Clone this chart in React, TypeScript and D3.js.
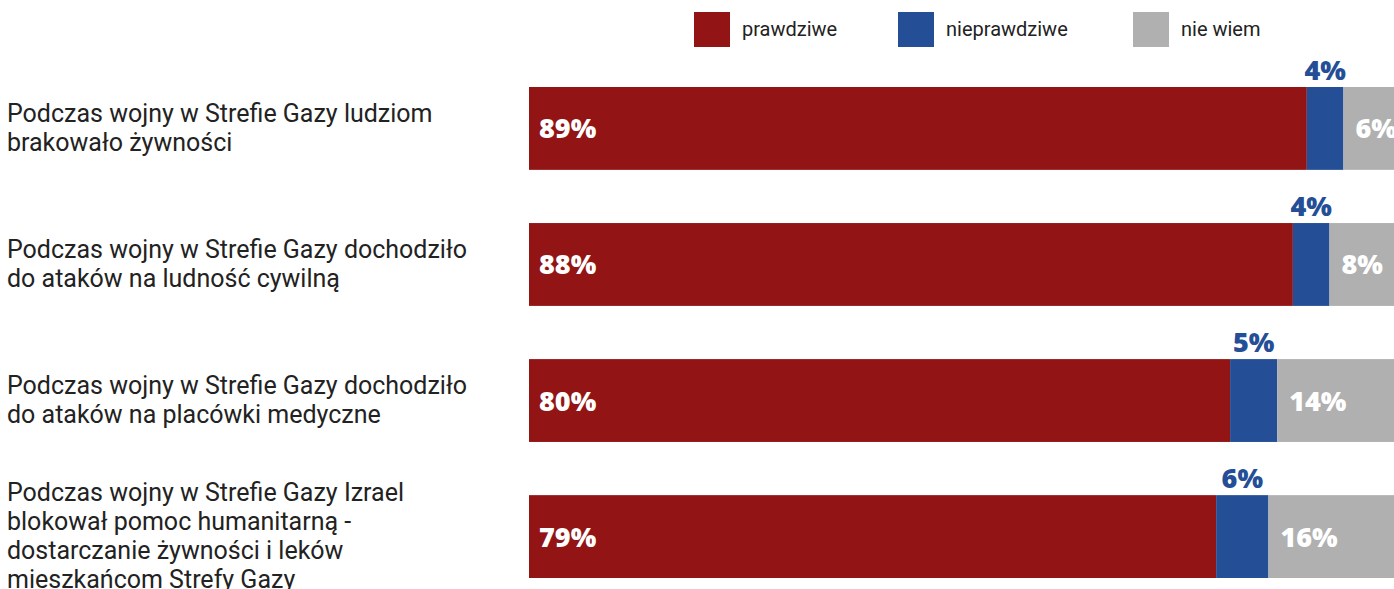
import React from "react";
import * as d3 from "d3";

const categories: string[][] = [
  ["Podczas wojny w Strefie Gazy ludziom", "brakowało żywności"],
  ["Podczas wojny w Strefie Gazy dochodziło", "do ataków na ludność cywilną"],
  ["Podczas wojny w Strefie Gazy dochodziło", "do ataków na placówki medyczne"],
  ["Podczas wojny w Strefie Gazy Izrael", "blokował pomoc humanitarną -", "dostarczanie żywności i leków", "mieszkańcom Strefy Gazy"],
];
const seriesNames = ["prawdziwe", "nieprawdziwe", "nie wiem"];
const prawdziwe = [89.2, 87.6, 80.4, 78.8];
const nieprawdziwe = [4.2, 4.2, 5.4, 6.0];
const nieWiem = [6.6, 8.2, 14.2, 15.6];
const labelPrawdziwe = [89, 88, 80, 79];
const labelNieprawdziwe = [4, 4, 5, 6];
const labelNieWiem = [6, 8, 14, 16];
const colors = ["#921414", "#244E96", "#B0B0B0"];

const W = 1394;
const H = 589;

export default function App() {
  const x = d3.scaleLinear().domain([0, 100]).range([529, 1401]);
  const ids = categories.map((_, i) => String(i));
  const y = d3.scaleBand().domain(ids).range([87, 578]).paddingInner(0.391).paddingOuter(0);
  const rows = categories.map((c, i) => ({ id: String(i), p: prawdziwe[i], n: nieprawdziwe[i], w: nieWiem[i] }));
  const stack = d3.stack<any>().keys(["p", "n", "w"])(rows);
  const bw = y.bandwidth();
  const labelFont = "Roboto, 'Noto Sans', sans-serif";
  const valueFont = "'Open Sans', sans-serif";
  const legendX = [694, 898, 1133];
  const lineH = 29;

  return (
    <svg width={W} height={H} style={{ position: "absolute", left: 0, top: 0 }}>
      <rect width={W} height={H} fill="#fff" />
      {seriesNames.map((s, i) => (
        <g key={s}>
          <rect x={legendX[i]} y={12} width={36} height={35} fill={colors[i]} />
          <text x={legendX[i] + 48} y={36} fontFamily={labelFont} fontSize={20} fill="#222">{s}</text>
        </g>
      ))}
      {stack.map((layer, k) => (
        <g key={k} fill={colors[k]}>
          {layer.map((d, i) => (
            <rect key={i} x={x(d[0])} y={y(String(i))!} width={x(d[1]) - x(d[0])} height={bw} />
          ))}
        </g>
      ))}
      {categories.map((lines, i) => {
        const cy = y(String(i))! + bw / 2;
        const top = cy - ((lines.length - 1) * lineH) / 2;
        return (
          <text key={i} fontFamily={labelFont} fontSize={25} fill="#222">
            {lines.map((l, j) => (
              <tspan key={j} x={7} y={top + j * lineH + 8}>{l}</tspan>
            ))}
          </text>
        );
      })}
      {rows.map((r, i) => {
        const yy = y(String(i))!;
        const cy = yy + bw / 2;
        const s0 = stack[0][i], s1 = stack[1][i], s2 = stack[2][i];
        return (
          <g key={i} fontFamily={valueFont} fontWeight={800} fontSize={27}>
            <text x={x(s0[0]) + 10} y={cy + 10} fill="#fff">{labelPrawdziwe[i]}%</text>
            <text x={(x(s1[0]) + x(s1[1])) / 2} y={yy - 7} fill={colors[1]} textAnchor="middle">{labelNieprawdziwe[i]}%</text>
            <text x={x(s2[0]) + 12} y={cy + 10} fill="#fff">{labelNieWiem[i]}%</text>
          </g>
        );
      })}
    </svg>
  );
}
